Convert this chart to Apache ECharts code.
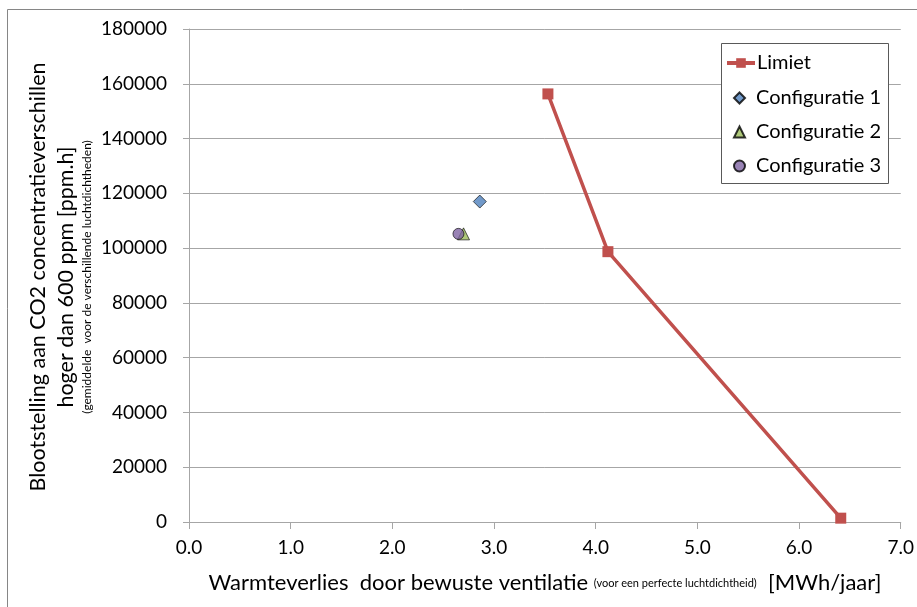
<!DOCTYPE html>
<html>
<head>
<meta charset="utf-8">
<script src="https://cdn.jsdelivr.net/npm/echarts@6/dist/echarts.min.js"></script>
<style>html,body{margin:0;padding:0;background:#fff}#c{width:917px;height:607px}</style>
</head>
<body>
<div id="c"></div>
<script>
const limietX = [3.53, 4.12, 6.41];
const limietY = [156300, 98700, 1400];
const config1 = [[2.86, 117000]];
const config2 = [[2.70, 105200]];
const config3 = [[2.65, 105200]];
const seriesNames = ['Limiet', 'Configuratie 1', 'Configuratie 2', 'Configuratie 3'];
const xTitle = ['Warmteverlies  door bewuste ventilatie ', '(voor een perfecte luchtdichtheid)', '  [MWh/jaar]'];
const yTitle = ['Blootstelling aan CO2 concentratieverschillen', 'hoger dan 600 ppm [ppm.h]', '(gemiddelde  voor de verschillende luchtdichtheden)'];

const FONT = 'Lato';
const legendText = { fontSize: 20, fontFamily: FONT, color: '#000' };
const chart = echarts.init(document.getElementById('c'));
chart.setOption({
  animation: false,
  textStyle: { fontFamily: FONT },
  grid: { left: 189, right: 16, top: 29, bottom: 85, containLabel: false },
  xAxis: {
    type: 'value', min: 0, max: 7, interval: 1,
    axisLine: { show: true, lineStyle: { color: '#A6A6A6', width: 1 } },
    axisTick: { show: true, length: 7, inside: false, lineStyle: { color: '#A6A6A6' } },
    axisLabel: { color: '#000', fontSize: 19, fontFamily: FONT, margin: 16, formatter: v => v.toFixed(1) },
    splitLine: { show: false }
  },
  yAxis: {
    type: 'value', min: 0, max: 180000, interval: 20000,
    axisLine: { show: true, lineStyle: { color: '#A6A6A6', width: 1 } },
    axisTick: { show: true, length: 6, inside: false, lineStyle: { color: '#A6A6A6' } },
    axisLabel: { color: '#000', fontSize: 19, fontFamily: FONT, margin: 22, formatter: v => String(v) },
    splitLine: { show: true, lineStyle: { color: '#A6A6A6', width: 1 } }
  },
  legend: [
    {
      orient: 'vertical', left: 725, top: 53, z: 10, padding: 0,
      itemWidth: 28, itemHeight: 12, itemGap: 14,
      lineStyle: { width: 4 },
      textStyle: Object.assign({ padding: [0, 0, 0, -3] }, legendText),
      data: [{ name: seriesNames[0] }]
    },
    {
      orient: 'vertical', left: 733, top: 88, z: 10, padding: 0,
      itemWidth: 11, itemHeight: 11, itemGap: 14,
      textStyle: Object.assign({ padding: [0, 0, 0, 6] }, legendText),
      data: [
        { name: seriesNames[1], icon: 'diamond' },
        { name: seriesNames[2], icon: 'triangle' },
        { name: seriesNames[3], icon: 'circle' }
      ]
    }
  ],
  series: [
    {
      name: seriesNames[0], type: 'line',
      data: limietX.map((x, i) => [x, limietY[i]]),
      symbol: 'rect', symbolSize: 11,
      lineStyle: { color: '#C0504D', width: 3.5 },
      itemStyle: { color: '#C0504D' },
      z: 2
    },
    {
      name: seriesNames[1], type: 'scatter', data: config1,
      symbol: 'diamond', symbolSize: 13,
      itemStyle: { color: '#4F81BD', borderColor: '#000', borderWidth: 0.8 }, z: 3
    },
    {
      name: seriesNames[2], type: 'scatter', data: config2,
      symbol: 'triangle', symbolSize: 12,
      itemStyle: { color: '#9BBB59', borderColor: '#000', borderWidth: 0.8 }, z: 4
    },
    {
      name: seriesNames[3], type: 'scatter', data: config3,
      symbol: 'circle', symbolSize: 11,
      itemStyle: { color: '#8064A2', borderColor: '#000', borderWidth: 0.8 }, z: 5
    }
  ],
  graphic: [
    { type: 'rect', shape: { x: 7.5, y: 9.5, width: 940, height: 640 }, style: { fill: 'none', stroke: '#868686', lineWidth: 1 }, silent: true },
    { type: 'rect', z: 6, shape: { x: 721.5, y: 43.5, width: 167, height: 140 }, style: { fill: '#fff', stroke: '#595959', lineWidth: 1 }, silent: true },
    {
      type: 'text', x: 545, y: 583,
      style: {
        text: '{a|' + xTitle[0] + '}{b|' + xTitle[1] + '}{a|' + xTitle[2] + '}',
        align: 'center', verticalAlign: 'middle',
        rich: { a: { fontSize: 22, fontFamily: FONT, fill: '#000' }, b: { fontSize: 11, fontFamily: FONT, fill: '#000' } }
      }
    },
    { type: 'text', x: 38, y: 277, rotation: Math.PI / 2, style: { text: yTitle[0], fontSize: 21.5, fontFamily: FONT, fill: '#000', align: 'center', verticalAlign: 'middle' } },
    { type: 'text', x: 66, y: 277, rotation: Math.PI / 2, style: { text: yTitle[1], fontSize: 21.5, fontFamily: FONT, fill: '#000', align: 'center', verticalAlign: 'middle' } },
    { type: 'text', x: 87, y: 277, rotation: Math.PI / 2, style: { text: yTitle[2], fontSize: 12, fontFamily: FONT, fill: '#000', align: 'center', verticalAlign: 'middle' } }
  ]
});
</script>
</body>
</html>
